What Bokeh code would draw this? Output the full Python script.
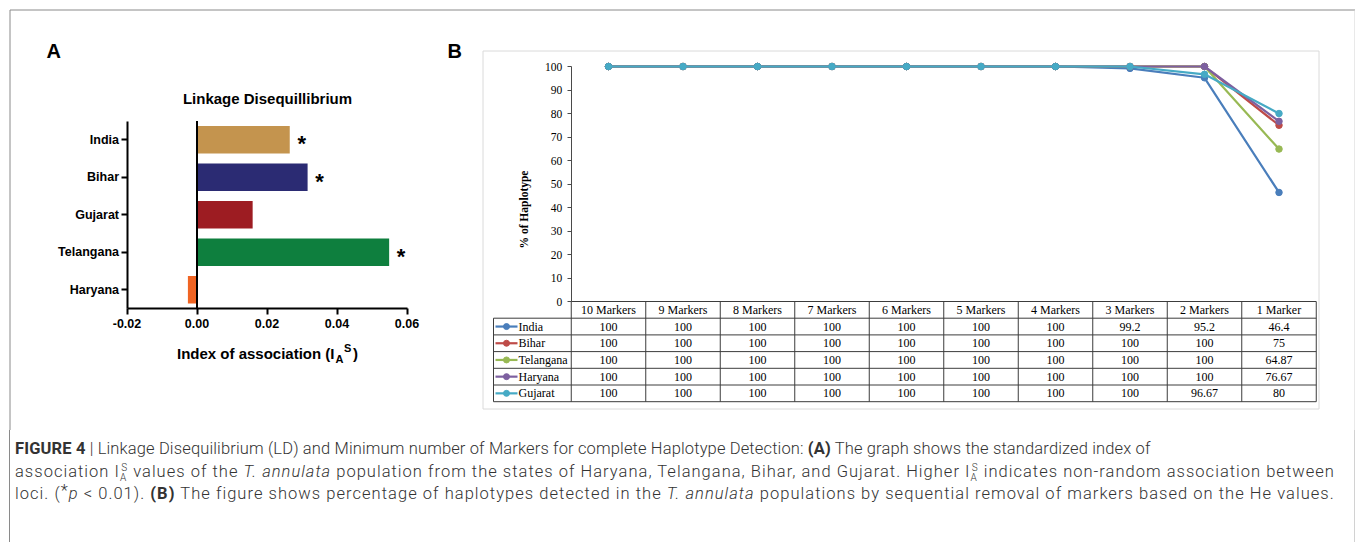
import math
from bokeh.plotting import figure
from bokeh.models import Range1d, LinearAxis, FixedTicker, NumeralTickFormatter, Div
from bokeh.layouts import column
from bokeh.embed import file_html
from bokeh.resources import INLINE
from bokeh.core.properties import value

# ---------------- Panel A data ----------------
a_states = ["India", "Bihar", "Gujarat", "Telangana", "Haryana"]
a_values = [0.0265, 0.0316, 0.0159, 0.0549, -0.0026]
a_significant = ["*", "*", "", "*", ""]
a_colors = ["#C4944E", "#2B2B73", "#9D1C22", "#0E7F3E", "#F06423"]
a_ticks = [-0.02, 0.0, 0.02, 0.04, 0.06]

# ---------------- Panel B data ----------------
b_markers = ["10 Markers", "9 Markers", "8 Markers", "7 Markers", "6 Markers",
             "5 Markers", "4 Markers", "3 Markers", "2 Markers", "1 Marker"]
b_india = [100, 100, 100, 100, 100, 100, 100, 99.2, 95.2, 46.4]
b_bihar = [100, 100, 100, 100, 100, 100, 100, 100, 100, 75]
b_telangana = [100, 100, 100, 100, 100, 100, 100, 100, 100, 64.87]
b_haryana = [100, 100, 100, 100, 100, 100, 100, 100, 100, 76.67]
b_gujarat = [100, 100, 100, 100, 100, 100, 100, 100, 96.67, 80]
b_series = ["India", "Bihar", "Telangana", "Haryana", "Gujarat"]
b_values = [b_india, b_bihar, b_telangana, b_haryana, b_gujarat]
b_colors = ["#4A7EBB", "#BE4B48", "#98B954", "#7D60A0", "#46AAC5"]
b_ticks = [0, 10, 20, 30, 40, 50, 60, 70, 80, 90, 100]

# ---------------- page canvas (screen pixel coordinates) ----------------
W, H, CAP_H = 1355, 430, 112
X0, Y0 = 0, 0

p = figure(width=W, height=H, x_range=Range1d(X0, X0 + W), y_range=Range1d(Y0 + H, Y0),
           x_axis_type=None, y_axis_type=None, output_backend="svg", toolbar_location=None,
           min_border=0, outline_line_color=None,
           background_fill_color="white", border_fill_color="white")


def mapper(p1, v1, p2, v2):
    k = (v2 - v1) / (p2 - p1)
    return lambda px: v1 + (px - p1) * k


# pixel anchors of each panel's scales
ax = mapper(126.5, a_ticks[0], 406.5, a_ticks[-1])
ay = mapper(139.3, 0, 289.3, len(a_states) - 1)
bx = mapper(608.0, 0, 1278.5, len(b_markers) - 1)
by = mapper(301.0, b_ticks[0], 66.0, b_ticks[-1])

p.extra_x_ranges = {"ax": Range1d(ax(X0), ax(X0 + W)), "bx": Range1d(bx(X0), bx(X0 + W))}
p.extra_y_ranges = {"ay": Range1d(ay(Y0 + H), ay(Y0)), "by": Range1d(by(Y0 + H), by(Y0))}

A = dict(x_range_name="ax", y_range_name="ay")
B = dict(x_range_name="bx", y_range_name="by")

# ---------- frames ----------
p.segment(x0=[9.5, 9.5, 1354.5], y0=[9.5, 9.5, 9.5], x1=[1354.5, 9.5, 1354.5], y1=[9.5, Y0 + H, Y0 + H],
          line_color=["#8a8a8a", "#8a8a8a", "#d2d2d2"], line_width=1)
p.quad(left=[482.5], right=[1318.5], top=[50.5], bottom=[408.5], fill_color=None,
       line_color="#dadada", line_width=1)

SANS = value("Liberation Sans")
SERIF = value("Liberation Serif")

# panel letters
p.text(x=[46, 447], y=[50, 50], text=["A", "B"], text_align="left", text_baseline="middle",
       text_font=SANS, text_font_style="bold", text_font_size="20px", text_color="black")

# ---------------- Panel A ----------------
a_idx = list(range(len(a_states)))
p.hbar(y=a_idx, left=0, right=a_values, height=0.73, fill_color=a_colors, line_color=None, **A)
p.segment(x0=[0], y0=[-0.5], x1=[0], y1=[len(a_states) - 0.5], line_color="black", line_width=2, **A)

sig_x = [v for v, s in zip(a_values, a_significant) if s]
sig_y = [i for i, s in zip(a_idx, a_significant) if s]
sig_t = [s for s in a_significant if s]
p.text(x=sig_x, y=sig_y, text=sig_t, x_offset=12, y_offset=4, text_align="center",
       text_baseline="middle", text_font=SANS, text_font_style="bold", text_font_size="22px",
       text_color="black", **A)

yaxA = LinearAxis(fixed_location=a_ticks[0], bounds=(-0.5, len(a_states) - 0.5),
                  ticker=FixedTicker(ticks=a_idx),
                  major_label_overrides={i: s for i, s in zip(a_idx, a_states)}, **A)
xaxA = LinearAxis(fixed_location=len(a_states) - 0.5, bounds=(a_ticks[0], a_ticks[-1]),
                  ticker=FixedTicker(ticks=a_ticks), formatter=NumeralTickFormatter(format="0.00"), **A)
for axis in (yaxA, xaxA):
    axis.axis_line_color = "black"
    axis.axis_line_width = 2
    axis.major_tick_line_color = "black"
    axis.major_tick_line_width = 2
    axis.major_tick_out = 6
    axis.major_tick_in = 0
    axis.minor_tick_line_color = None
    axis.major_label_text_font = "Liberation Sans"
    axis.major_label_text_font_style = "bold"
    axis.major_label_text_font_size = "12.5px"
    axis.major_label_text_color = "black"
yaxA.major_label_standoff = 2
xaxA.major_label_standoff = 4
p.add_layout(yaxA, "left")
p.add_layout(xaxA, "below")

p.text(x=[267], y=[98], text=["Linkage Disequillibrium"], text_align="center", text_baseline="middle",
       text_font=SANS, text_font_style="bold", text_font_size="15px", text_color="black")
# x-axis title with sub/superscript
p.text(x=[334, 352.5], y=[353, 353], text=["Index of association (I", ")"], text_align=["right", "left"],
       text_baseline="middle", text_font=SANS, text_font_style="bold", text_font_size="15px",
       text_color="black")
p.text(x=[335, 343.5], y=[358, 347], text=["A", "S"], text_align="left", text_baseline="middle",
       text_font=SANS, text_font_style="bold", text_font_size="11px", text_color="black")

# ---------------- Panel B ----------------
b_idx = list(range(len(b_markers)))
for name, vals, col in zip(b_series, b_values, b_colors):
    p.line(x=b_idx, y=vals, line_color=col, line_width=2.2, **B)
    p.scatter(x=b_idx, y=vals, size=6.5, fill_color=col, line_color=col, **B)

yaxB = LinearAxis(fixed_location=-0.5, bounds=(b_ticks[0], b_ticks[-1]), ticker=FixedTicker(ticks=b_ticks), **B)
yaxB.axis_line_color = "#4a4a4a"
yaxB.major_tick_line_color = "#4a4a4a"
yaxB.major_tick_out = 4
yaxB.major_tick_in = 0
yaxB.minor_tick_line_color = None
yaxB.major_label_text_font = "Liberation Serif"
yaxB.major_label_text_font_size = "11.5px"
yaxB.major_label_text_color = "black"
yaxB.major_label_standoff = 5
p.add_layout(yaxB, "left")

p.text(x=[523], y=[209], text=["% of Haplotype"], angle=math.pi / 2, text_align="center",
       text_baseline="middle", text_font=SERIF, text_font_style="bold", text_font_size="11.5px",
       text_color="black")

# data table under the chart
head_top, head_bot, row_h, leg_left = 301.0, 317.7, 16.7, 493.0
row_lines = [head_bot + row_h * r for r in range(len(b_series) + 1)]
tbl_bottom = row_lines[-1]
p.segment(x0=[-0.5] + [bx(leg_left)] * len(row_lines),
          y0=[by(head_top)] + [by(y) for y in row_lines],
          x1=[len(b_markers) - 0.5] * (len(row_lines) + 1),
          y1=[by(head_top)] + [by(y) for y in row_lines],
          line_color="#3c3c3c", line_width=1, **B)
vx = [k - 0.5 for k in range(len(b_markers) + 1)]
p.segment(x0=vx + [bx(leg_left)], y0=[by(head_top)] * len(vx) + [by(head_bot)],
          x1=vx + [bx(leg_left)], y1=[by(tbl_bottom)] * (len(vx) + 1),
          line_color="#3c3c3c", line_width=1, **B)

p.text(x=b_idx, y=[by((head_top + head_bot) / 2)] * len(b_idx), text=b_markers, text_align="center",
       text_baseline="middle", text_font=SERIF, text_font_size="12px", text_color="black", **B)
for r, (name, vals, col) in enumerate(zip(b_series, b_values, b_colors)):
    yc = by(head_bot + row_h * (r + 0.5))
    p.text(x=b_idx, y=[yc] * len(b_idx), text=[f"{v:g}" for v in vals], text_align="center",
           text_baseline="middle", text_font=SERIF, text_font_size="12px", text_color="black", **B)
    p.segment(x0=[bx(495)], y0=[yc], x1=[bx(517)], y1=[yc], line_color=col, line_width=2.2, **B)
    p.scatter(x=[bx(506)], y=[yc], size=6, fill_color=col, line_color=col, **B)
    p.text(x=[bx(518)], y=[yc], text=[name], text_align="left", text_baseline="middle",
           text_font=SERIF, text_font_size="12px", text_color="black", **B)

# ---------------- caption ----------------
ia = ('I<span style="font-size:10px;position:relative;top:4px;">A</span>'
      '<span style="font-size:10px;position:relative;top:-6px;margin-left:-6px;">S</span>')
B700 = '<b style="font-weight:700;">'


def cap_line(html, spacing):
    return ('<div style="white-space:nowrap;letter-spacing:%.2fpx;height:22.5px;">' % spacing) + html + '</div>'


caption_html = (
    '<div style="width:1346px;height:%dpx;margin-left:9px;box-sizing:border-box;' % CAP_H +
    'border-left:1px solid #8a8a8a;border-right:1px solid #d2d2d2;padding:8px 0 0 5px;'
    "font-family:Roboto,'Liberation Sans',sans-serif;font-weight:300;font-size:16.5px;"
    'line-height:22.5px;color:#333333;">' +
    cap_line(B700 + 'FIGURE 4</b> | Linkage Disequilibrium (LD) and Minimum number of Markers '
             'for complete Haplotype Detection: ' + B700 + '(A)</b> The graph shows the standardized index of', 0.14) +
    cap_line('association ' + ia + ' values of the <i>T. annulata</i> population from the states of Haryana, '
             'Telangana, Bihar, and Gujarat. Higher ' + ia + ' indicates non-random association between', 1.02) +
    cap_line('loci. (<span style="position:relative;top:-3px;">*</span><i>p</i> &lt; 0.01). ' + B700 + '(B)</b> '
             'The figure shows percentage of haplotypes detected in the <i>T. annulata</i> populations by '
             'sequential removal of markers based on the He values.', 1.04) +
    '</div>'
)
caption = Div(text=caption_html, width=W, height=CAP_H, margin=0)

layout = column(p, caption, spacing=0)
open("out.html", "w").write(file_html(layout, INLINE))
